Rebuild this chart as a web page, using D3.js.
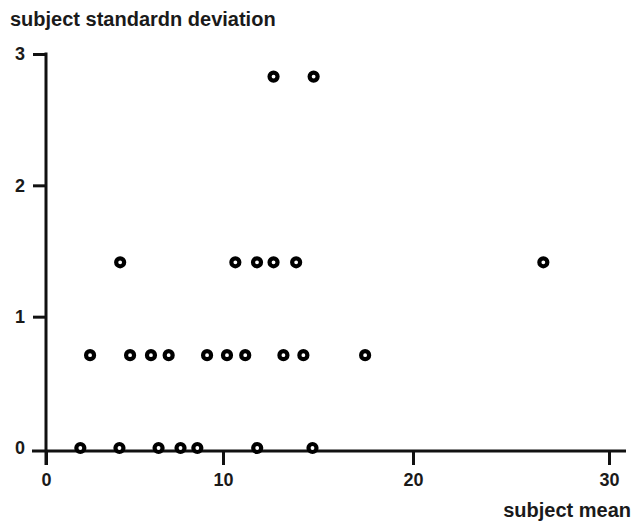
<!DOCTYPE html>
<html>
<head>
<meta charset="utf-8">
<script src="https://cdn.jsdelivr.net/npm/d3@7"></script>
<style>
  body { margin: 0; background: #fff; }
  svg text { font-family: "Liberation Sans", Arial, sans-serif; font-weight: bold; fill: #1a1a1a; }
</style>
</head>
<body>
<svg width="633" height="523"></svg>
<script>
var svg = d3.select("svg");

// values
var subjectMean = [1.94, 4.15, 6.36, 7.6, 8.55, 11.8, 14.71,
                   2.49, 4.75, 5.93, 6.93, 9.1, 10.21, 11.17, 13.18, 14.23, 17.48,
                   4.19, 10.65, 11.79, 12.66, 13.85, 26.65,
                   12.66, 14.77];
var subjectSd = [0, 0, 0, 0, 0, 0, 0,
                 0.707, 0.707, 0.707, 0.707, 0.707, 0.707, 0.707, 0.707, 0.707, 0.707,
                 1.414, 1.414, 1.414, 1.414, 1.414, 1.414,
                 2.828, 2.828];
var xTicks = [0, 10, 20, 30];
var yTicks = [0, 1, 2, 3];

// the original axis is not quite even, so a polylinear scale follows its ticks
var x = d3.scaleLinear().domain([0, 10, 20, 30]).range([46, 223, 413, 609]);
var y = d3.scaleLinear().domain([0, 3]).range([448, 54]);
var xAxisY = 451;

var pts = subjectMean.map(function(m, i) { return {m: m, sd: subjectSd[i]}; });

// x axis
var gx = svg.append("g").attr("transform", "translate(0," + xAxisY + ")")
  .call(d3.axisBottom(x).tickValues(xTicks).tickSize(14).tickPadding(8).tickFormat(d3.format("d")));
gx.select(".domain").remove();
gx.selectAll(".tick line").attr("stroke", "#111").attr("stroke-width", 3);
gx.selectAll(".tick text").attr("font-size", 18).attr("fill", "#1a1a1a");
svg.append("line").attr("x1", 32).attr("x2", 626).attr("y1", xAxisY).attr("y2", xAxisY)
  .attr("stroke", "#111").attr("stroke-width", 3);

// y axis
var gy = svg.append("g").attr("transform", "translate(" + x(0) + ",0)")
  .call(d3.axisLeft(y).tickValues(yTicks).tickSize(13).tickPadding(8).tickFormat(d3.format("d")));
gy.select(".domain").remove();
gy.selectAll(".tick line").attr("stroke", "#111").attr("stroke-width", 3)
  .filter(function(d) { return d === 0; }).remove();
gy.selectAll(".tick text").attr("font-size", 18).attr("fill", "#1a1a1a");
svg.append("line").attr("x1", x(0)).attr("x2", x(0)).attr("y1", y(3) - 1.5).attr("y2", xAxisY + 14)
  .attr("stroke", "#111").attr("stroke-width", 3);

// points
svg.selectAll("circle.pt").data(pts).enter().append("circle")
  .attr("class", "pt")
  .attr("cx", function(d) { return x(d.m); })
  .attr("cy", function(d) { return y(d.sd); })
  .attr("r", 4)
  .attr("fill", "#fff")
  .attr("stroke", "#000")
  .attr("stroke-width", 4.2);

// titles
svg.append("text").attr("x", 10).attr("y", 26).attr("font-size", 20)
  .text("subject standardn deviation");
svg.append("text").attr("x", 631).attr("y", 517).attr("font-size", 20)
  .attr("text-anchor", "end")
  .text("subject mean");
</script>
</body>
</html>
